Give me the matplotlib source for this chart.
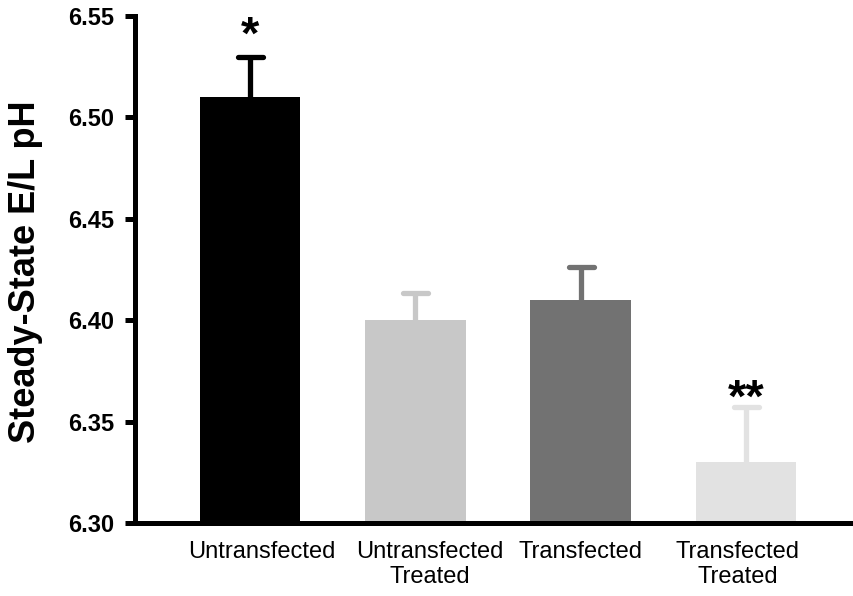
import matplotlib
matplotlib.use("Agg")
import matplotlib.pyplot as plt
from matplotlib.markers import MarkerStyle

categories = ["Untransfected", "Untransfected\nTreated", "Transfected", "Transfected\nTreated"]
values = [6.51, 6.40, 6.41, 6.33]
errors = [0.020, 0.0135, 0.016, 0.027]
significance = ["*", "", "", "**"]
yticks = [6.30, 6.35, 6.40, 6.45, 6.50, 6.55]
ytick_labels = ["6.30", "6.35", "6.40", "6.45", "6.50", "6.55"]

colors = ["#000000", "#c8c8c8", "#727272", "#e2e2e2"]
label_shift = [0.07, 0.09, 0.0, -0.05]
star_gap = [-0.001, 0.0, 0.0, -0.007]

plt.rcParams['font.family'] = ['Liberation Sans', 'DejaVu Sans']

fig = plt.figure(figsize=(8.54, 5.96), dpi=100)
ax = fig.add_axes([135/854, 73/596, 1 - 135/854, (523-16)/596])

x = list(range(len(values)))
base = yticks[0]
heights = [v - base for v in values]
ax.bar(x, heights, bottom=base, width=0.61, color=colors, zorder=2)

for xi, v, e, c, s, g in zip(x, values, errors, colors, significance, star_gap):
    eb = ax.errorbar([xi], [v], yerr=[[0], [e]], fmt='none', ecolor=c,
                     elinewidth=3.8, capsize=9, capthick=3.8, zorder=1)
    caps = eb[1]
    caps[0].set_visible(False)
    caps[1].set_marker(MarkerStyle('_', capstyle='round'))
    if s:
        ax.text(xi, v + e + g, s, ha='center', va='bottom',
                fontsize=34, fontweight='bold', color='black')

ax.set_xlim(-0.696, 3.653)
ax.set_ylim(yticks[0], yticks[-1])
ax.set_yticks(yticks)
ax.set_yticklabels(ytick_labels, fontsize=17, fontweight='bold')
ax.set_xticks([xi + sh for xi, sh in zip(x, label_shift)])
ax.set_xticklabels(categories, fontsize=17)
ax.tick_params(axis='x', length=0, pad=13)
ax.tick_params(axis='y', length=7, width=3.6, pad=8, direction='out')

for side in ['top', 'right']:
    ax.spines[side].set_visible(False)
for side in ['left', 'bottom']:
    ax.spines[side].set_linewidth(3.6)
ax.spines['left'].set_capstyle('projecting')

ax.set_ylabel("Steady-State E/L pH", fontsize=26, fontweight='bold')
ax.yaxis.set_label_coords(-0.128, 0.496)

fig.savefig("out.png", dpi=100)
